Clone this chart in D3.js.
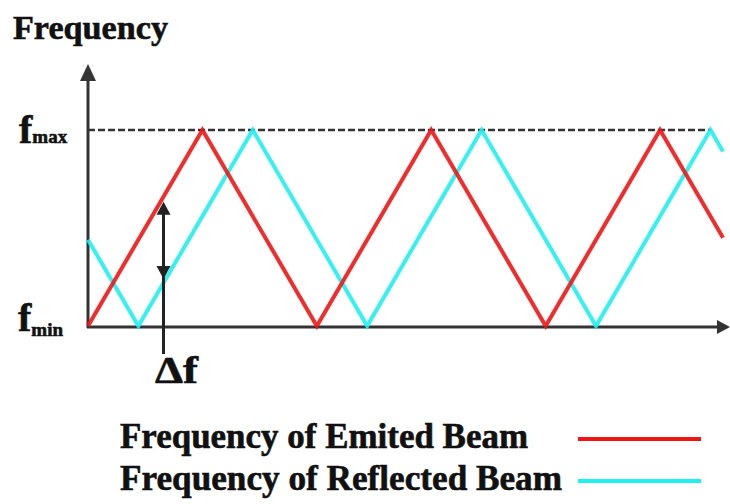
<!DOCTYPE html>
<html>
<head>
<meta charset="utf-8">
<script src="https://d3js.org/d3.v7.min.js"></script>
<style>
  body { margin: 0; background: #fff; }
</style>
</head>
<body>
<div id="chart-area"></div>
<script>
// time in arbitrary units (half sweep = 10), frequency normalised fmin=0 .. fmax=1
var emittedTime = [0, 10, 20, 30, 40, 50, 55.5];
var emittedFreq = [0, 1, 0, 1, 0, 1, 0.45];
var reflectedTime = [0, 4.4, 14.4, 24.4, 34.4, 44.4, 54.4, 55.5];
var reflectedFreq = [0.44, 0, 1, 0, 1, 0, 1, 0.89];
var deltaTime = 6.6;
var legendLabels = ["Frequency of Emited Beam", "Frequency of Reflected Beam"];
var legendColors = ["#f01515", "#1ff0f0"];

var width = 730;
var height = 504;
var fontFamily = "Liberation Serif";

var svg = d3.select("#chart-area").append("svg")
    .attr("width", width)
    .attr("height", height);

var x = d3.scaleLinear().domain([0, 55.5]).range([88, 723]);
var y = d3.scaleLinear().domain([0, 1]).range([326, 130]);

var axisColor = "#333";

// fmax dashed line
svg.append("line")
    .attr("x1", x(0)).attr("x2", 711)
    .attr("y1", y(1)).attr("y2", y(1))
    .attr("stroke", "#333")
    .attr("stroke-width", 2.5)
    .attr("stroke-dasharray", "7,3");

// axes
svg.append("line")
    .attr("x1", x(0)).attr("x2", x(0))
    .attr("y1", 72).attr("y2", 328)
    .attr("stroke", axisColor)
    .attr("stroke-width", 3);
svg.append("path")
    .attr("d", "M" + x(0) + ",64 L" + (x(0) - 8) + ",81 L" + (x(0) + 8) + ",81 Z")
    .attr("fill", axisColor);

svg.append("line")
    .attr("x1", x(0) - 1).attr("x2", 722)
    .attr("y1", 327).attr("y2", 327)
    .attr("stroke", axisColor)
    .attr("stroke-width", 3);
svg.append("path")
    .attr("d", "M730,327 L717,320 L717,334 Z")
    .attr("fill", axisColor);

// waves
var line = d3.line()
    .x(function(d) { return x(d[0]); })
    .y(function(d) { return y(d[1]); });

function pairs(t, f) {
    return t.map(function(d, i) { return [d, f[i]]; });
}

svg.append("path")
    .datum(pairs(reflectedTime, reflectedFreq))
    .attr("d", line)
    .attr("fill", "none")
    .attr("stroke", legendColors[1])
    .attr("stroke-width", 4)
    .attr("opacity", 0.9);

svg.append("path")
    .datum(pairs(emittedTime, emittedFreq))
    .attr("d", line)
    .attr("fill", "none")
    .attr("stroke", legendColors[0])
    .attr("stroke-width", 4)
    .attr("opacity", 0.9);

// delta f arrow
function valueAt(t, ts, fs) {
    return d3.scaleLinear().domain(ts).range(fs)(t);
}
var dx = x(deltaTime);
var topY = y(valueAt(deltaTime, emittedTime, emittedFreq)) + 5;
var botY = y(valueAt(deltaTime, reflectedTime, reflectedFreq)) - 4;

svg.append("line")
    .attr("x1", dx).attr("x2", dx)
    .attr("y1", topY + 6).attr("y2", 354)
    .attr("stroke", "#222")
    .attr("stroke-width", 3);
svg.append("path")
    .attr("d", "M" + dx + "," + topY + " L" + (dx - 7) + "," + (topY + 13) + " L" + (dx + 7) + "," + (topY + 13) + " Z")
    .attr("fill", "#222");
svg.append("path")
    .attr("d", "M" + dx + "," + botY + " L" + (dx - 7) + "," + (botY - 13) + " L" + (dx + 7) + "," + (botY - 13) + " Z")
    .attr("fill", "#222");

// labels
function label(xp, yp, size) {
    return svg.append("text")
        .attr("x", xp).attr("y", yp)
        .attr("font-family", fontFamily)
        .attr("font-weight", "bold")
        .attr("font-size", size)
        .attr("fill", "#111")
        .attr("stroke", "#111")
        .attr("stroke-width", 0.6);
}

label(13, 39, 34)
    .attr("textLength", 155)
    .attr("lengthAdjust", "spacingAndGlyphs")
    .text("Frequency");

var fmax = label(19, 143, 40);
fmax.append("tspan").text("f");
fmax.append("tspan").attr("font-size", 19).text("max");

var fmin = label(18, 331, 40);
fmin.append("tspan").text("f");
fmin.append("tspan").attr("font-size", 19).attr("dy", 5).text("min");

label(155, 383, 38)
    .attr("textLength", 43)
    .attr("lengthAdjust", "spacingAndGlyphs")
    .text("\u0394f");

// legend
var legendY = [448, 490];
var legendWidths = [408, 442];
legendLabels.forEach(function(text, i) {
    label(120, legendY[i], 35)
        .attr("textLength", legendWidths[i])
        .attr("lengthAdjust", "spacingAndGlyphs")
        .text(text);
    svg.append("line")
        .attr("x1", 578).attr("x2", 701)
        .attr("y1", legendY[i] - 9).attr("y2", legendY[i] - 9)
        .attr("stroke", legendColors[i])
        .attr("stroke-width", 4);
});
</script>
</body>
</html>
